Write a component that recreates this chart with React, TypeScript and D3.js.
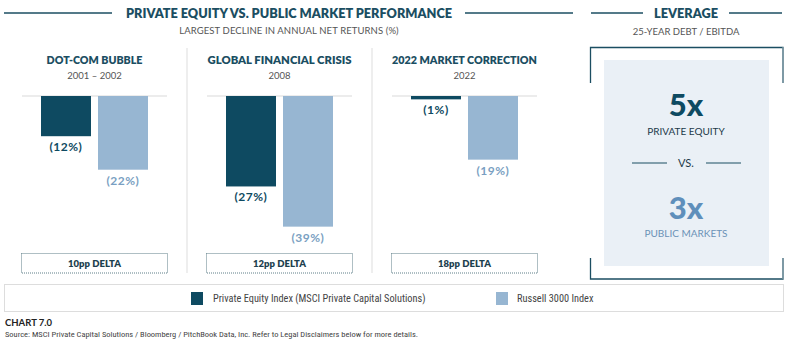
import React from "react";
import * as d3 from "d3";

const crises = ["DOT-COM BUBBLE", "GLOBAL FINANCIAL CRISIS", "2022 MARKET CORRECTION"];
const periods = ["2001 – 2002", "2008", "2022"];
const series = ["Private Equity Index (MSCI Private Capital Solutions)", "Russell 3000 Index"];
const peDecline = [12, 27, 1];
const russellDecline = [22, 39, 19];
const deltas = ["10pp DELTA", "12pp DELTA", "18pp DELTA"];
const leverageValues = ["5x", "3x"];
const leverageLabels = ["PRIVATE EQUITY", "PUBLIC MARKETS"];

const PE = "#0e4a61";
const RU = "#97b6d2";
const TITLE = "#1b4e62";
const FONT = "Lato, 'Noto Sans', sans-serif";
const NARROW = "'Liberation Sans Narrow', 'Roboto Condensed', Roboto, sans-serif";

export default function App() {
  const W = 800, H = 343;
  const x0 = d3.scaleBand<string>().domain(crises).range([22, 537]).paddingInner(40 / 185);
  const x1 = d3.scaleBand<string>().domain(series).range([19, 126]).paddingInner(7 / 57);
  const y = d3.scaleLinear().domain([0, 40]).range([96, 230]);
  const vals = [peDecline, russellDecline];
  const colors = [PE, RU];
  const labelColors = [PE, "#7a9fc2"];
  const step = x0.step();
  const headingLen = [96, 144, 145];

  return (
    <svg width={W} height={H} style={{ display: "block", position: "absolute", left: 0, top: 0 }} fontFamily={FONT}>
      <rect width={W} height={H} fill="#fff" />
      {/* Main title */}
      <line x1={4} x2={112} y1={13} y2={13} stroke={TITLE} strokeWidth={1.3} />
      <line x1={465} x2={573} y1={13} y2={13} stroke={TITLE} strokeWidth={1.3} />
      <text x={289} y={18} textAnchor="middle" fontSize={13} fontWeight={800} fill={TITLE}
        textLength={326} lengthAdjust="spacingAndGlyphs">
        PRIVATE EQUITY VS. PUBLIC MARKET PERFORMANCE
      </text>
      <text x={289} y={34} textAnchor="middle" fontSize={9.5} fill="#555" letterSpacing={0.1}>
        LARGEST DECLINE IN ANNUAL NET RETURNS (%)
      </text>
      {/* Leverage title */}
      <line x1={591} x2={643} y1={13} y2={13} stroke={TITLE} strokeWidth={1.3} />
      <line x1={729} x2={782} y1={13} y2={13} stroke={TITLE} strokeWidth={1.3} />
      <text x={686} y={18} textAnchor="middle" fontSize={13} fontWeight={800} fill={TITLE}
        textLength={64} lengthAdjust="spacingAndGlyphs">
        LEVERAGE
      </text>
      <text x={686} y={35} textAnchor="middle" fontSize={9.5} fill="#555">
        25-YEAR DEBT / EBITDA
      </text>

      {/* Dividers */}
      {crises.slice(1).map((c) => (
        <line key={c} x1={(x0(c) as number) - (step - x0.bandwidth()) / 2} x2={(x0(c) as number) - (step - x0.bandwidth()) / 2}
          y1={48} y2={273} stroke="#ddd" strokeWidth={1} />
      ))}

      {crises.map((c, i) => {
        const bx = x0(c) as number;
        const cx = bx + x0.bandwidth() / 2;
        return (
          <g key={c}>
            <text x={cx} y={64} textAnchor="middle" fontSize={11.5} fontWeight={800} fill={TITLE}
              textLength={headingLen[i]} lengthAdjust="spacingAndGlyphs">{c}</text>
            <text x={cx} y={79} textAnchor="middle" fontSize={9.5} fill="#555">{periods[i]}</text>
            <line x1={bx} x2={bx + x0.bandwidth()} y1={y(0)} y2={y(0)} stroke="#e6e6e6" strokeWidth={1.5} />
            {series.map((s, k) => {
              const v = vals[k][i];
              const xx = bx + (x1(s) as number);
              return (
                <g key={s}>
                  <rect x={xx} y={y(0)} width={x1.bandwidth()} height={y(v) - y(0)} fill={colors[k]} />
                  <text x={xx + x1.bandwidth() / 2} y={y(v) + 15} textAnchor="middle" fontSize={12} fontWeight={700}
                    fill={labelColors[k]} letterSpacing={0.5}>({v}%)</text>
                </g>
              );
            })}
            <rect x={bx - 0.5} y={253.5} width={x0.bandwidth() + 1} height={19.5} fill="none" stroke="#5f7f88"
              strokeWidth={1} strokeDasharray="1 1" />
            <text x={cx} y={267} textAnchor="middle" fontSize={9.5} fontWeight={800} fill="#1d3f4e">{deltas[i]}</text>
          </g>
        );
      })}

      {/* Leverage panel */}
      <path d="M590.5,83 V47.5 H783 V83" fill="none" stroke={TITLE} strokeWidth={1.3} />
      <path d="M590.5,258 V279 H783 V258" fill="none" stroke={TITLE} strokeWidth={1.3} />
      <line x1={783} x2={783} y1={47} y2={83} stroke="#8aa2ac" strokeWidth={1.3} />
      <line x1={783} x2={783} y1={258} y2={279} stroke="#8aa2ac" strokeWidth={1.3} />
      <rect x={604} y={60} width={165} height={206} fill="#eaf0f6" />
      <text x={686} y={116} textAnchor="middle" fontSize={31} fontWeight={900} fill={PE}>{leverageValues[0]}</text>
      <text x={686} y={135} textAnchor="middle" fontSize={10} fill="#1d3a4a">{leverageLabels[0]}</text>
      <line x1={632} x2={667} y1={163} y2={163} stroke={TITLE} strokeWidth={1} />
      <line x1={706} x2={741} y1={163} y2={163} stroke={TITLE} strokeWidth={1} />
      <text x={686} y={167} textAnchor="middle" fontSize={11} fill="#1d3a4a">VS.</text>
      <text x={686} y={219} textAnchor="middle" fontSize={31} fontWeight={900} fill="#5f8fbb">{leverageValues[1]}</text>
      <text x={686} y={237} textAnchor="middle" fontSize={10} fill="#6a92b7">{leverageLabels[1]}</text>

      {/* Legend */}
      <rect x={4.5} y={284.5} width={779} height={27} fill="none" stroke="#ddd" strokeWidth={1} />
      <rect x={191} y={292} width={12} height={13} fill={PE} />
      <text x={213} y={302} fontSize={10.3} fill="#444" fontFamily={NARROW}>{series[0]}</text>
      <rect x={496} y={292} width={12} height={13} fill={RU} />
      <text x={517} y={302} fontSize={10.3} fill="#444" fontFamily={NARROW}>{series[1]}</text>

      <text x={5} y={326} fontSize={9.5} fontWeight={700} fill="#222">CHART 7.0</text>
      <text x={5} y={337} fontSize={7.5} fill="#444" fontFamily={NARROW} textLength={413} lengthAdjust="spacingAndGlyphs">
        Source: MSCI Private Capital Solutions / Bloomberg / PitchBook Data, Inc. Refer to Legal Disclaimers below for more details.
      </text>
    </svg>
  );
}
